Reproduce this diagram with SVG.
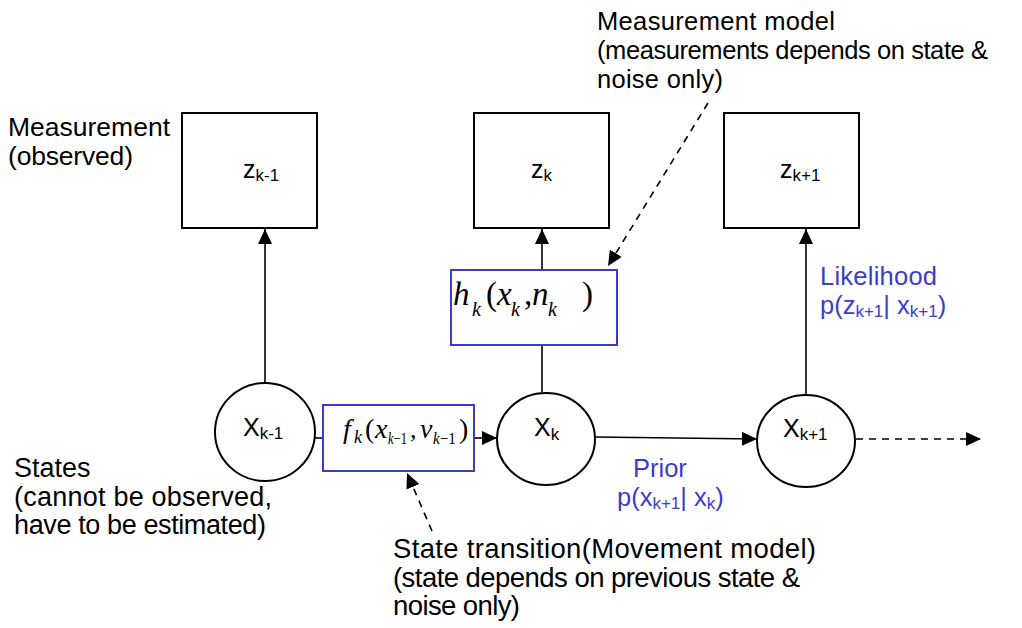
<svg xmlns="http://www.w3.org/2000/svg" width="1022" height="628" viewBox="0 0 1022 628">
<defs>
<marker id="arr" markerUnits="userSpaceOnUse" markerWidth="16" markerHeight="14" refX="15" refY="7" orient="auto"><path d="M0,0 L15,7 L0,14 z" fill="#000"/></marker>
<style>
.box{fill:#fff;stroke:#000;stroke-width:2}
.st{fill:#fff;stroke:#000;stroke-width:2}
.fn{fill:#fff;stroke:#3c3ccc;stroke-width:2}
.ln{stroke:#000;stroke-width:1.6;fill:none}
.dash{stroke:#000;stroke-width:1.6;fill:none;stroke-dasharray:7 6}
.t{font-family:"Liberation Sans",Arial,sans-serif;font-size:25.5px;fill:#000}
.t26{font-size:26.5px}
.t27{font-size:27px}
.t28{font-size:27.5px}
.b{fill:#3c3ccc}
.lbl{font-family:"Liberation Sans",Arial,sans-serif;font-size:25px;fill:#000}
.sub{font-size:17px}
.m{font-family:"Liberation Serif","Times New Roman",serif;fill:#000}
.mi{font-style:italic}
</style>
</defs>

<!-- connectors -->
<g id="connectors">
<line class="ln" x1="265" y1="382" x2="265" y2="229" marker-end="url(#arr)"/>
<line class="ln" x1="542" y1="392" x2="542" y2="346"/>
<line class="ln" x1="542" y1="270" x2="542" y2="229" marker-end="url(#arr)"/>
<line class="ln" x1="806" y1="394" x2="806" y2="229" marker-end="url(#arr)"/>
<line class="ln" x1="315" y1="438" x2="323" y2="438"/>
<line class="ln" x1="474" y1="438" x2="497" y2="438" marker-end="url(#arr)"/>
<line class="ln" x1="595" y1="437" x2="757" y2="439" marker-end="url(#arr)"/>
<line class="dash" x1="856" y1="439" x2="981" y2="439" marker-end="url(#arr)"/>
<line class="dash" x1="708" y1="103" x2="608" y2="266" marker-end="url(#arr)"/>
<line class="dash" x1="432" y1="531" x2="407" y2="473" marker-end="url(#arr)"/>
</g>

<!-- measurement nodes -->
<g id="z_km1">
<rect class="box" x="182" y="113" width="135" height="115"/>
<text class="lbl" x="243" y="178">z<tspan class="sub" dy="3">k-1</tspan></text>
</g>
<g id="z_k">
<rect class="box" x="474" y="113" width="135" height="115"/>
<text class="lbl" x="531" y="178">z<tspan class="sub" dy="3">k</tspan></text>
</g>
<g id="z_kp1">
<rect class="box" x="724" y="113" width="135" height="115"/>
<text class="lbl" x="780" y="178">z<tspan class="sub" dy="3">k+1</tspan></text>
</g>

<!-- state nodes -->
<g id="x_km1">
<ellipse class="st" cx="265" cy="432" rx="50" ry="49"/>
<text class="lbl" x="243" y="436">X<tspan class="sub" dy="3">k-1</tspan></text>
</g>
<g id="x_k">
<ellipse class="st" cx="546" cy="439" rx="49" ry="46"/>
<text class="lbl" x="534" y="436">X<tspan class="sub" dy="4">k</tspan></text>
</g>
<g id="x_kp1">
<ellipse class="st" cx="806" cy="441" rx="49" ry="46"/>
<text class="lbl" x="783" y="437">X<tspan class="sub" dy="3">k+1</tspan></text>
</g>

<!-- transition function -->
<g id="f_k">
<rect class="fn" x="323" y="405" width="151" height="66"/>
<g class="m" font-size="28">
<text class="mi" x="343" y="438">f</text>
<text class="mi" x="354" y="443" font-size="18">k</text>
<text x="365" y="438">(</text>
<text class="mi" x="375" y="438">x</text>
<text x="388" y="444" font-size="17" textLength="19" lengthAdjust="spacingAndGlyphs"><tspan font-style="italic">k</tspan>−1</text>
<text x="410" y="438" font-size="26">,</text>
<text class="mi" x="420" y="438">v</text>
<text x="433" y="444" font-size="17" textLength="23" lengthAdjust="spacingAndGlyphs"><tspan font-style="italic">k</tspan>−1</text>
<text x="459" y="438">)</text>
</g>
</g>

<!-- measurement function -->
<g id="h_k">
<rect class="fn" x="451" y="270" width="166" height="75"/>
<g class="m" font-size="33">
<text class="mi" x="453" y="305">h</text>
<text class="mi" x="472" y="316" font-size="20">k</text>
<text x="486" y="305">(</text>
<text class="mi" x="497" y="305">x</text>
<text class="mi" x="511" y="316" font-size="20">k</text>
<text x="524" y="305">,</text>
<text class="mi" x="532" y="305">n</text>
<text class="mi" x="548" y="316" font-size="20">k</text>
<text x="582" y="305">)</text>
</g>
</g>

<!-- annotations -->
<g id="notes">
<text class="t" x="597" y="30" textLength="238">Measurement model</text>
<text class="t" x="597" y="59" textLength="391">(measurements depends on state &amp;</text>
<text class="t" x="597" y="88" textLength="126">noise only)</text>
<text class="t t26" x="8" y="136" textLength="162">Measurement</text>
<text class="t t26" x="8" y="165" textLength="125">(observed)</text>
<text class="t t27" x="14" y="477">States</text>
<text class="t t27" x="14" y="506" textLength="258">(cannot be observed,</text>
<text class="t t27" x="14" y="534" textLength="252">have to be estimated)</text>
<text class="t t28" x="393" y="558" textLength="423">State transition(Movement model)</text>
<text class="t t28" x="393" y="587" textLength="407">(state depends on previous state &amp;</text>
<text class="t t28" x="393" y="615" textLength="127">noise only)</text>
<text class="t b" x="633" y="477">Prior</text>
<text class="t b" x="617" y="506">p(x<tspan class="sub" dy="3">k+1</tspan><tspan dy="-3">| x</tspan><tspan class="sub" dy="3">k</tspan><tspan dy="-3">)</tspan></text>
<text class="t b" x="820" y="285" textLength="117">Likelihood</text>
<text class="t b" x="820" y="314">p(z<tspan class="sub" dy="3">k+1</tspan><tspan dy="-3">| x</tspan><tspan class="sub" dy="3">k+1</tspan><tspan dy="-3">)</tspan></text>
</g>
</svg>
